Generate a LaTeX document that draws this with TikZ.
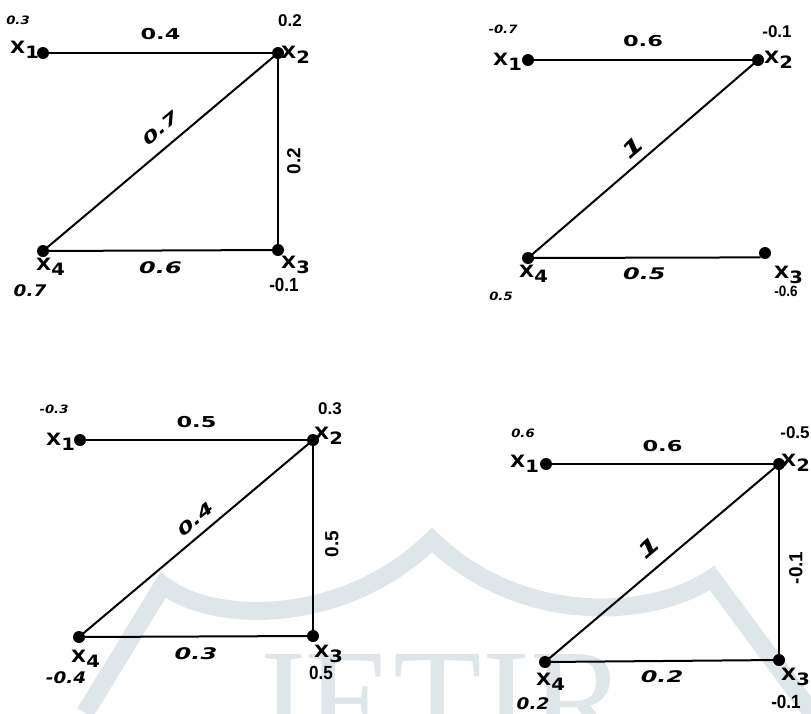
\documentclass[tikz,border=0pt]{standalone}
\usepackage{fontspec}
\setmainfont{Liberation Sans}
\newfontfamily\widefont{DejaVu Sans}[FakeStretch=1.5]
\newfontfamily\semiwidefont{DejaVu Sans}[FakeStretch=1.15]
\newfontfamily\narrowfont{Liberation Sans}[FakeStretch=0.9]
\newfontfamily\markfont{Liberation Serif}
\definecolor{markgray}{RGB}{222,230,234}
\newcommand{\xv}[1]{X\raisebox{-0.6ex}{#1}}

\begin{document}
\begin{tikzpicture}[x=1pt,y=1pt,
  dot/.style={circle,fill=black,inner sep=0pt,minimum size=12pt},
  edge/.style={draw=black,line width=2pt},
  wt/.style={font=\widefont\bfseries\fontsize{15}{15}\selectfont,inner sep=0pt},
  wti/.style={font=\widefont\bfseries\itshape\fontsize{16}{16}\selectfont,inner sep=0pt},
  wtv/.style={font=\bfseries\fontsize{19}{19}\selectfont,inner sep=0pt},
  xlab/.style={font=\semiwidefont\bfseries\fontsize{17}{17}\selectfont,inner sep=0pt,anchor=base west},
  vsm/.style={font=\semiwidefont\bfseries\itshape\fontsize{11.5}{11.5}\selectfont,inner sep=0pt},
  vup/.style={font=\bfseries\fontsize{17}{17}\selectfont,inner sep=0pt},
  vnar/.style={font=\narrowfont\bfseries\fontsize{19}{19}\selectfont,inner sep=0pt},
  vbig/.style={font=\semiwidefont\bfseries\itshape\fontsize{16}{16}\selectfont,inner sep=0pt},
]
\useasboundingbox (0,0) rectangle (811,-713);

% watermark
\draw[markgray,line width=18pt] (85,-713) -- (163,-585)
  .. controls (215,-625) and (345,-625) .. (432,-540)
  .. controls (520,-625) and (650,-620) .. (712,-578) -- (812,-713);
\node[font=\markfont\fontsize{145}{145}\selectfont,text=markgray,anchor=base] (mark) at (438,-749) {JETIR};

% graph (a)
\node[dot] (a1) at (43,-53) {};
\node[dot] (a2) at (278,-53) {};
\node[dot] (a3) at (278,-250) {};
\node[dot] (a4) at (43,-251) {};
\draw[edge] (a1.center) -- (a2.center) node[wt,midway,above=12pt] {0.4};
\draw[edge] (a4.center) -- (a2.center) node[wti,pos=0.55,sloped,above=11pt] {0.7};
\draw[edge] (a3.center) -- (a2.center) node[wtv,pos=0.45,sloped,below=8pt] {0.2};
\draw[edge] (a4.center) -- (a3.center) node[wti,midway,below=10pt] {0.6};
\node[xlab] (a1x) at (10,-53) {\xv{1}};
\node[xlab] (a2x) at (281,-58) {\xv{2}};
\node[xlab] (a3x) at (281,-268) {\xv{3}};
\node[xlab] (a4x) at (36,-270) {\xv{4}};
\node[vsm] (a1v) at (18,-20) {0.3};
\node[vup] (a2v) at (290,-21) {0.2};
\node[vnar] (a3v) at (284,-285) {-0.1};
\node[vbig] (a4v) at (30,-291) {0.7};

% graph (b)
\node[dot] (b1) at (528,-60) {};
\node[dot] (b2) at (758,-60) {};
\node[dot] (b3) at (765,-253) {};
\node[dot] (b4) at (528,-258) {};
\draw[edge] (b1.center) -- (b2.center) node[wt,midway,above=12pt] {0.6};
\draw[edge] (b4.center) -- (b2.center) node[wti,midway,sloped,above=7pt,font=\widefont\bfseries\itshape\fontsize{21}{21}\selectfont] {1};
\draw[edge] (b4.center) -- (b3.south west) node[wti,midway,below=9pt] {0.5};
\node[xlab] (b1x) at (493,-65) {\xv{1}};
\node[xlab] (b2x) at (764,-63) {\xv{2}};
\node[xlab] (b3x) at (774,-278) {\xv{3}};
\node[xlab] (b4x) at (519,-277) {\xv{4}};
\node[vsm] (b1v) at (503,-29) {-0.7};
\node[vup] (b2v) at (777,-32) {-0.1};
\node[vnar,font=\narrowfont\bfseries\fontsize{15}{15}\selectfont] (b3v) at (786,-291) {-0.6};
\node[vsm] (b4v) at (501,-296) {0.5};

% graph (c)
\node[dot] (c1) at (80,-440) {};
\node[dot] (c2) at (313,-440) {};
\node[dot] (c3) at (313,-636) {};
\node[dot] (c4) at (79,-637) {};
\draw[edge] (c1.center) -- (c2.center) node[wt,midway,above=11pt] {0.5};
\draw[edge] (c4.center) -- (c2.center) node[wti,pos=0.54,sloped,above=8pt] {0.4};
\draw[edge] (c3.center) -- (c2.center) node[wtv,pos=0.47,sloped,below=11pt] {0.5};
\draw[edge] (c4.center) -- (c3.center) node[wti,midway,below=10pt] {0.3};
\node[xlab] (c1x) at (46,-445) {\xv{1}};
\node[xlab] (c2x) at (314,-439) {\xv{2}};
\node[xlab] (c3x) at (314,-657) {\xv{3}};
\node[xlab] (c4x) at (71,-662) {\xv{4}};
\node[vsm] (c1v) at (54,-409) {-0.3};
\node[vup] (c2v) at (330,-409) {0.3};
\node[vnar] (c3v) at (321,-673) {0.5};
\node[vbig] (c4v) at (66,-678) {-0.4};

% graph (d)
\node[dot] (d1) at (546,-464) {};
\node[dot] (d2) at (779,-464) {};
\node[dot] (d3) at (779,-660) {};
\node[dot] (d4) at (545,-662) {};
\draw[edge] (d1.center) -- (d2.center) node[wt,midway,above=11pt] {0.6};
\draw[edge] (d4.center) -- (d2.center) node[wti,midway,sloped,above=12pt,font=\widefont\bfseries\itshape\fontsize{21}{21}\selectfont] {1};
\draw[edge] (d3.center) -- (d2.center) node[wtv,pos=0.47,sloped,below=9pt] {-0.1};
\draw[edge] (d4.center) -- (d3.center) node[wti,midway,below=9pt] {0.2};
\node[xlab] (d1x) at (510,-467) {\xv{1}};
\node[xlab] (d2x) at (781,-466) {\xv{2}};
\node[xlab] (d3x) at (781,-680) {\xv{3}};
\node[xlab] (d4x) at (536,-685) {\xv{4}};
\node[vsm] (d1v) at (523,-433) {0.6};
\node[vup] (d2v) at (795,-433) {-0.5};
\node[vnar] (d3v) at (786,-702) {-0.1};
\node[vbig] (d4v) at (533,-704) {0.2};
\end{tikzpicture}
\end{document}
